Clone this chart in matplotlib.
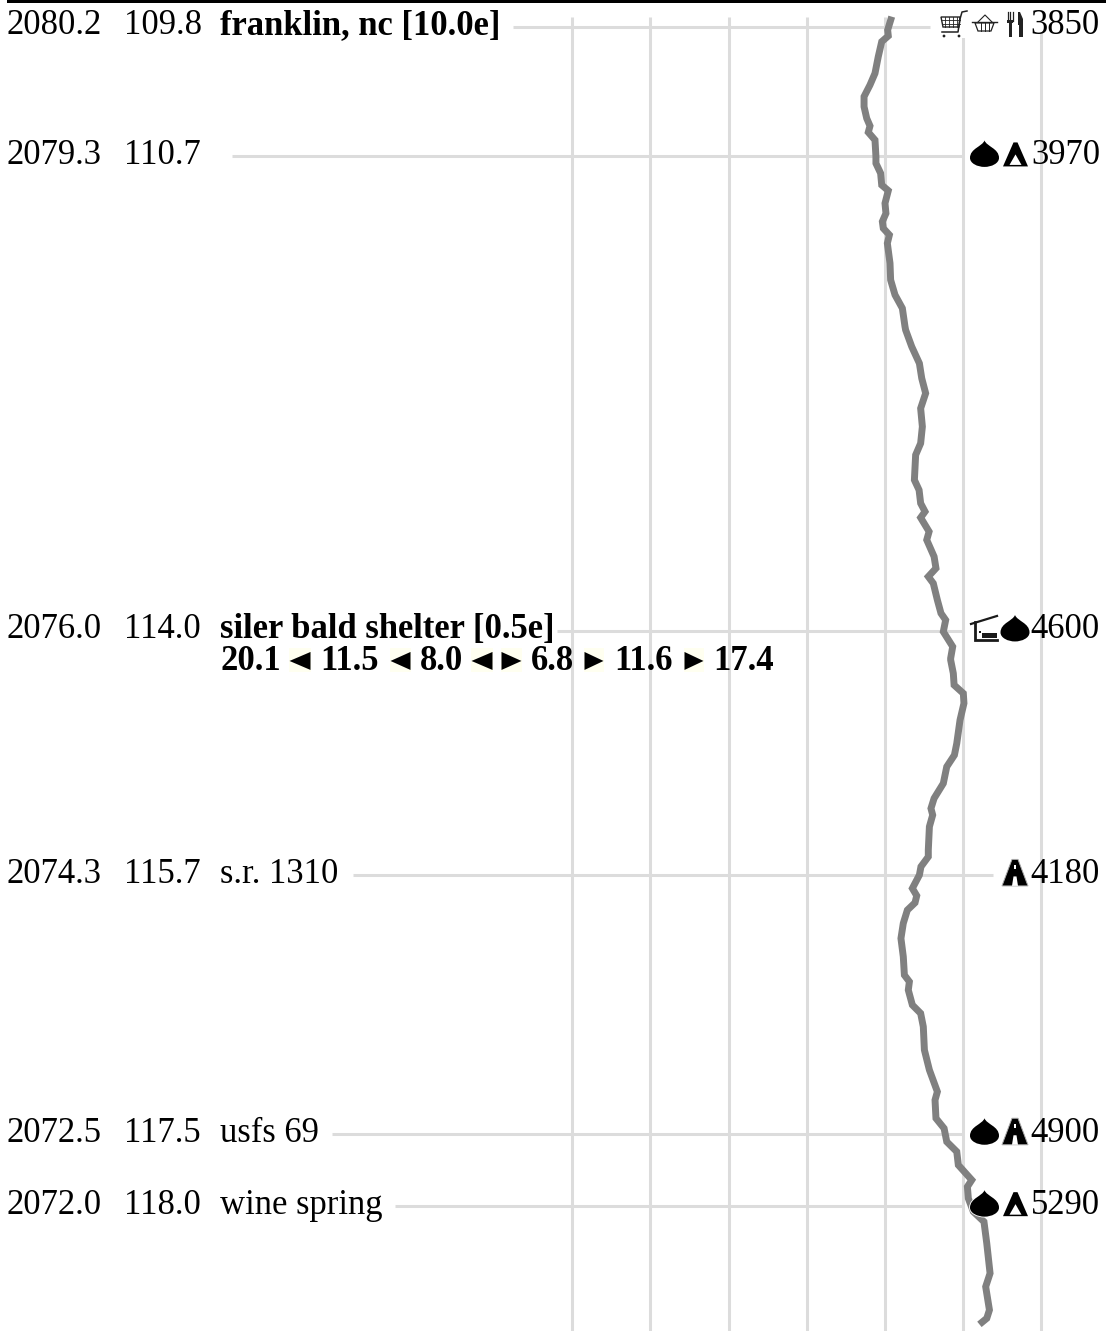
import matplotlib
matplotlib.use('Agg')
import matplotlib.pyplot as plt
from matplotlib.patches import Polygon, Rectangle, Circle, PathPatch
from matplotlib.path import Path

# waypoints
nobo = ['2080.2', '2079.3', '2076.0', '2074.3', '2072.5', '2072.0']
sobo = [109.8, 110.7, 114.0, 115.7, 117.5, 118.0]
names = ['franklin, nc [10.0e]', '', 'siler bald shelter [0.5e]', 's.r. 1310', 'usfs 69', 'wine spring']
bold = [True, False, True, False, False, False]
elev_labels = ['3850', '3970', '4600', '4180', '4900', '5290']
shelter_dist = ['20.1', '11.5', '8.0', '6.8', '11.6', '17.4']

# elevation profile
profile_mile = [109.728, 109.821, 109.862, 109.902, 110.006, 110.122, 110.203, 110.284, 110.354, 110.435,
                110.488, 110.532, 110.586, 110.701, 110.748, 110.817, 110.899, 110.938, 111.026, 111.096,
                111.153, 111.200, 111.246, 111.304, 111.443, 111.559, 111.663, 111.756, 111.884,
                111.907, 112.023, 112.139, 112.243, 112.347, 112.452, 112.579, 112.695, 112.776, 112.950,
                113.020, 113.112, 113.170, 113.212, 113.309, 113.367, 113.483, 113.564, 113.622, 113.669,
                113.785, 113.877, 113.924, 114.005, 114.109, 114.190,
                114.202, 114.295, 114.376, 114.434, 114.503, 114.619, 114.782, 114.863, 114.944, 115.060,
                115.164, 115.234, 115.280, 115.361, 115.523, 115.570, 115.639, 115.697, 115.790, 115.841,
                115.890, 115.941, 116.033, 116.138, 116.265, 116.393, 116.439,
                116.497, 116.601, 116.659, 116.752, 116.914, 117.053, 117.204, 117.262, 117.389, 117.459,
                117.552, 117.621, 117.714, 117.818, 117.865, 117.946, 118.038, 118.108, 118.259, 118.467,
                118.560, 118.722, 118.780, 118.822]
profile_elev = [3543, 3517, 3521, 3479, 3457, 3436, 3404, 3366, 3366, 3383,
                3404, 3393, 3436, 3442, 3442, 3472, 3479, 3521, 3500, 3506,
                3483, 3489, 3528, 3515, 3532, 3536, 3564, 3611, 3628,
                3632, 3671, 3720, 3735, 3760, 3728, 3739, 3728, 3696, 3688,
                3718, 3728, 3756, 3728, 3782, 3767, 3814, 3826, 3777, 3809,
                3835, 3858, 3888, 3873, 3933, 3920,
                3920, 3937, 3942, 4001, 4005, 3980, 3959, 3944, 3895, 3873,
                3814, 3794, 3805, 3784, 3777, 3777, 3730, 3720, 3675, 3703,
                3692, 3643, 3617, 3602, 3617, 3624, 3656,
                3649, 3675, 3728, 3745, 3752, 3784, 3835, 3820, 3826, 3878,
                3895, 3959, 3969, 4055, 4027, 4033, 4065, 4133, 4151, 4172,
                4144, 4168, 4151, 4104]
grid_elev = [1500, 2000, 2500, 3000, 3500, 4000, 4500]

W, H = 1106, 1331
plt.rcParams['font.family'] = ['Liberation Serif', 'DejaVu Serif']
FS = 24.9
GRID = '#dcdcdc'


# axes scales: 143.8 px per mile, 78.17 px per 500 ft
def ypx(mile):
    return 27 + (mile - 109.8) * 143.8


def xdata(px):
    return 3500 + (px - 885) * 500 / 78.17


fig = plt.figure(figsize=(W / 100, H / 100), dpi=100)
ax = fig.add_axes([0, 0, 1, 1])
ax.set_xlim(xdata(0), xdata(W))
ax.set_ylim(109.8 + (H - 27) / 143.8, 109.8 - 27 / 143.8)
ax.axis('off')

ax.vlines(grid_elev, 109.8 - 10 / 143.8, 109.8 + (H - 27) / 143.8, color=GRID, lw=2.2, zorder=1)

# leader lines
leader_start = [513, 232, 557, 353, 332, 395]
leader_end = [930, 962, 962, 993, 962, 962]
for i in range(len(sobo)):
    ax.hlines(sobo[i], xdata(leader_start[i]), xdata(leader_end[i]), color=GRID, lw=2.2, zorder=1)

ax.plot(profile_elev, profile_mile, color='#808080', lw=5.0, solid_capstyle='butt',
        solid_joinstyle='miter', zorder=2)

# overlay in pixels for text and icons
ov = fig.add_axes([0, 0, 1, 1])
ov.set_xlim(0, W)
ov.set_ylim(H, 0)
ov.axis('off')
ov.patch.set_alpha(0)

ov.add_patch(Rectangle((7, 0), W - 7, 2.5, color='black', lw=0))
ov.add_patch(Rectangle((936, 9), 164, 24, color='white', lw=0, zorder=1))
ov.add_patch(Rectangle((936, 9), 94, 29, color='white', lw=0, zorder=1))


def drop(cx, L):
    v = [(cx, L - 16), (cx + 2, L - 10), (cx + 14.5, L - 8), (cx + 14.5, L + 1.5),
         (cx + 14.5, L + 7), (cx + 7, L + 10.5), (cx, L + 10.5),
         (cx - 7, L + 10.5), (cx - 14.5, L + 7), (cx - 14.5, L + 1.5),
         (cx - 14.5, L - 8), (cx - 2, L - 10), (cx, L - 16)]
    c = [Path.MOVETO] + [Path.CURVE4] * 12
    ov.add_patch(PathPatch(Path(v, c), fc='white', ec='white', lw=1.2, zorder=3))
    ov.add_patch(PathPatch(Path(v, c), fc='black', lw=0, zorder=3))


def tent(cx, L):
    ov.add_patch(Polygon([(cx - 2, L - 14), (cx + 2, L - 14), (cx + 12.5, L + 10), (cx - 12.5, L + 10)],
                         fc='black', lw=0, zorder=3))
    ov.add_patch(Polygon([(cx, L - 2), (cx + 6, L + 8.5), (cx - 6, L + 8.5)], fc='white', lw=0, zorder=4))


def road(cx, L):
    ov.add_patch(Polygon([(cx - 3, L - 16), (cx + 3, L - 16), (cx + 13, L + 10.5), (cx - 13, L + 10.5)],
                         fc='black', ec='#aaaaaa', lw=0.7, zorder=3))
    ov.add_patch(Rectangle((cx - 1.2, L - 10), 2.4, 4, fc='white', lw=0, zorder=4))
    ov.add_patch(Polygon([(cx - 1.5, L + 1), (cx + 1.5, L + 1), (cx + 3, L + 10.5), (cx - 3, L + 10.5)],
                         fc='white', lw=0, zorder=4))


def shelter(L):
    ov.plot([971, 997], [L - 7, L - 15], color='#1a1a1a', lw=1.6, zorder=3)
    ov.plot([975, 975, 997], [L - 9, L + 9.5, L + 9.5], color='#1a1a1a', lw=2.0, zorder=3,
            solid_joinstyle='miter')
    ov.add_patch(Rectangle((982, L + 2), 15, 5, fc='#1a1a1a', lw=0, zorder=3))
    ov.add_patch(Rectangle((978.5, L + 0), 2.5, 2.5, fc='#1a1a1a', lw=0, zorder=3))


def cart(L):
    ov.add_patch(Polygon([(941, L - 10), (960, L - 10), (959, L), (943, L)], fc='white', ec='#222222',
                         lw=1.0, zorder=3))
    for x in [945, 949, 953, 957]:
        ov.plot([x, x], [L - 10, L], color='#222222', lw=0.6, zorder=3)
    for y in [L - 7, L - 3.5]:
        ov.plot([942, 960], [y, y], color='#222222', lw=0.6, zorder=3)
    ov.plot([967, 962, 960, 958, 942], [L - 16, L - 15, L - 8, L + 5, L + 5], color='#222222', lw=1.1, zorder=3)
    ov.add_patch(Circle((944, L + 9), 1.4, fc='#222222', lw=0, zorder=3))
    ov.add_patch(Circle((959, L + 9), 1.4, fc='#222222', lw=0, zorder=3))


def basket(L):
    ov.plot([972, 997], [L - 5, L - 5], color='#222222', lw=1.0, zorder=3)
    ov.plot([978, 985, 992], [L - 5, L - 12, L - 5], color='#222222', lw=0.8, zorder=3)
    ov.add_patch(Polygon([(975, L - 4), (994, L - 4), (991, L + 4), (978, L + 4)], fc='white', ec='#222222',
                         lw=0.9, zorder=3))
    for x in [981, 985, 989]:
        ov.plot([x, x], [L - 4, L + 4], color='#222222', lw=0.7, zorder=3)


def cutlery(L):
    for x in [1007.5, 1010, 1012.5]:
        ov.plot([x, x], [L - 15, L - 6], color='#222222', lw=0.9, zorder=3)
    ov.add_patch(Rectangle((1007, L - 7), 6, 2.5, fc='#222222', lw=0, zorder=3))
    ov.add_patch(Rectangle((1008.5, L - 5), 3, 15, fc='#222222', lw=0, zorder=3))
    ov.add_patch(Polygon([(1018, L - 15), (1020, L - 15), (1023, L - 8), (1023, L + 10), (1019, L + 10),
                          (1019, L - 2), (1018, L - 2)], fc='#222222', lw=0, zorder=3))


# text rows
for i in range(len(sobo)):
    y = ypx(sobo[i]) + 7.5
    ov.text(6, y, nobo[i], fontsize=FS, va='baseline', ha='left', zorder=5)
    ov.text(124, y, '%.1f' % sobo[i], fontsize=FS, va='baseline', ha='left', zorder=5)
    if names[i]:
        ov.text(220, y, names[i], fontsize=FS, va='baseline', ha='left', zorder=5,
                fontweight='bold' if bold[i] else 'normal')
    ov.text(1100, y, elev_labels[i], fontsize=FS, va='baseline', ha='right', zorder=5)

L = [ypx(m) for m in sobo]
cart(L[0])
basket(L[0])
cutlery(L[0])
drop(984.5, L[1])
tent(1015.5, L[1])
shelter(L[2])
drop(1015, L[2])
road(1015, L[3])
drop(984.5, L[4])
road(1015, L[4])
drop(984.5, L[5])
tent(1015.5, L[5])

# shelter distances line under siler bald
base = L[2] + 39
dist_x = [220, 320, 420, 531, 614, 713]
for i in range(len(shelter_dist)):
    ov.text(dist_x[i], base, shelter_dist[i], fontsize=FS, fontweight='bold', va='baseline', ha='left', zorder=5)

tri_x = [(289, 311, -1), (390, 411, -1), (471, 493, -1), (501, 522, 1), (584, 604, 1), (684, 704, 1)]
for x0, x1, d in tri_x:
    ov.add_patch(Rectangle((x0, base - 22), x1 - x0, 24, fc='#fffff0', lw=0, zorder=3))
    tip = x1 - 0.5 if d > 0 else x0 + 0.5
    back = x0 + 0.5 if d > 0 else x1 - 0.5
    ov.add_patch(Polygon([(back, base - 18), (tip, base - 9), (back, base)], fc='black', lw=0, zorder=4))

fig.savefig('out.png', dpi=100)
